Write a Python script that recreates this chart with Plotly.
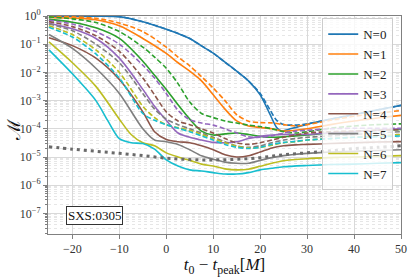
import plotly.graph_objects as go

# ---------------- data ----------------
t_a = [-25, -20, -15, -10, -5, 0, 2.5, 5, 7.5, 10, 12.5, 15, 17.5, 20, 22, 23.5, 24.5, 26, 28, 32, 40, 50]
n0_solid = [0.93, 0.98, 0.99, 0.95, 0.63, 0.34, 0.24, 0.16, 0.087, 0.048, 0.023, 0.011, 0.005, 0.0016,
            3.5e-4, 1.12e-4, 8.3e-5, 9.5e-5, 1.17e-4, 1.74e-4, 3.2e-4, 6.8e-4]
t_n0d = [-25, -20, -15, -10, -5, 0, 2.5, 5, 7.5, 10, 12.5, 15, 17.5, 20, 22, 23.5, 25, 27, 29, 32, 40, 50]
n0_dash = [0.95, 0.98, 0.99, 0.95, 0.63, 0.34, 0.24, 0.16, 0.087, 0.048, 0.023, 0.011, 0.005, 0.0018,
           5.0e-4, 2.0e-4, 1.41e-4, 1.35e-4, 1.41e-4, 1.74e-4, 3.2e-4, 6.8e-4]

t_b = [-25, -20, -15, -10, -5, 0, 2.5, 5, 7.5, 10, 12.5, 15, 17.5, 20, 22.5, 25, 27.5, 30, 35, 40, 45, 50]
n1_solid = [0.89, 0.85, 0.74, 0.45, 0.16, 0.047, 0.022, 0.011, 0.005, 0.0016, 5.0e-4, 1.9e-4, 1.26e-4,
            1.12e-4, 1.0e-4, 8.3e-5, 8.9e-5, 1.0e-4, 1.41e-4, 1.9e-4, 2.4e-4, 3.0e-4]
n1_dash = [0.98, 0.93, 0.83, 0.56, 0.28, 0.079, 0.035, 0.017, 0.0071, 0.0028, 1.0e-3, 3.2e-4, 1.86e-4,
           1.66e-4, 1.62e-4, 1.41e-4, 1.26e-4, 1.41e-4, 2.0e-4, 2.8e-4, 3.5e-4, 4.5e-4]

t_c = [-25, -20, -15, -10, -5, -2.5, 0, 2.5, 5, 7.5, 10, 12.5, 15, 17.5, 20, 22.5, 25, 27.5, 30, 35, 40, 45, 50]
n2_solid = [0.76, 0.60, 0.38, 0.16, 0.025, 0.0079, 0.0025, 7.1e-4, 2.2e-4, 8.3e-5, 6.0e-5, 6.6e-5, 7.1e-5,
            6.3e-5, 5.4e-5, 5.0e-5, 5.2e-5, 5.6e-5, 6.0e-5, 7.1e-5, 7.9e-5, 8.9e-5, 9.5e-5]
n2_dash = [0.93, 0.79, 0.59, 0.28, 0.079, 0.035, 0.014, 0.004, 8.9e-4, 3.5e-4, 2.5e-4, 1.9e-4, 1.6e-4,
           1.35e-4, 1.2e-4, 1.0e-4, 7.9e-5, 7.1e-5, 7.9e-5, 1.05e-4, 1.26e-4, 1.41e-4, 1.5e-4]
n3_solid = [0.55, 0.35, 0.16, 0.032, 0.0025, 6.3e-4, 2.0e-4, 7.1e-5, 5.0e-5, 4.0e-5, 3.3e-5, 3.2e-5, 3.5e-5,
            4.5e-5, 5.4e-5, 6.0e-5, 6.3e-5, 6.3e-5, 6.3e-5, 7.1e-5, 7.9e-5, 8.9e-5, 1.0e-4]
n3_dash = [0.71, 0.52, 0.28, 0.1, 0.018, 0.0063, 0.0018, 4.5e-4, 2.1e-4, 1.6e-4, 1.35e-4, 1.0e-4, 7.1e-5,
           5.2e-5, 5.0e-5, 5.6e-5, 7.1e-5, 8.3e-5, 8.9e-5, 1.0e-4, 1.05e-4, 1.05e-4, 1.05e-4]
n4_solid = [0.17, 0.089, 0.032, 0.0056, 4.0e-4, 7.9e-5, 4.2e-5, 3.5e-5, 3.2e-5, 2.5e-5, 1.8e-5, 1.2e-5, 1.0e-5,
            1.1e-5, 1.5e-5, 2.1e-5, 2.5e-5, 2.7e-5, 2.8e-5, 3.0e-5, 3.2e-5, 3.4e-5, 3.5e-5]
n4_dash = [0.63, 0.42, 0.2, 0.056, 0.0063, 0.0016, 4.0e-4, 1.9e-4, 1.4e-4, 1.0e-4, 7.1e-5, 4.5e-5, 3.2e-5,
           2.8e-5, 3.2e-5, 4.0e-5, 5.0e-5, 6.0e-5, 7.1e-5, 7.9e-5, 8.3e-5, 8.9e-5, 9.3e-5]
n5_solid = [0.22, 0.071, 0.014, 0.0018, 1.0e-4, 4.0e-5, 3.5e-5, 2.8e-5, 1.8e-5, 1.1e-5, 8.3e-6, 6.6e-6, 6.0e-6,
            6.0e-6, 7.6e-6, 9.5e-6, 1.12e-5, 1.26e-5, 1.35e-5, 1.5e-5, 1.6e-5, 1.7e-5, 1.8e-5]
n5_dash = [0.52, 0.3, 0.1, 0.022, 0.0018, 5.0e-4, 2.2e-4, 1.4e-4, 1.0e-4, 7.1e-5, 5.0e-5, 3.5e-5, 2.5e-5,
           2.2e-5, 2.5e-5, 3.2e-5, 4.0e-5, 4.5e-5, 5.0e-5, 5.6e-5, 6.3e-5, 7.1e-5, 7.9e-5]
n6_dash = [0.45, 0.22, 0.063, 0.01, 6.3e-4, 2.5e-4, 1.4e-4, 1.1e-4, 8.9e-5, 6.3e-5, 4.5e-5, 3.2e-5, 2.4e-5,
           2.1e-5, 2.2e-5, 2.6e-5, 3.2e-5, 3.5e-5, 4.0e-5, 4.5e-5, 5.0e-5, 5.6e-5, 6.3e-5]
n7_dash = [0.4, 0.18, 0.045, 0.0063, 3.5e-4, 2.0e-4, 1.4e-4, 1.05e-4, 7.9e-5, 5.6e-5, 4.0e-5, 2.8e-5, 2.2e-5,
           2.0e-5, 2.2e-5, 2.8e-5, 3.3e-5, 3.6e-5, 4.0e-5, 4.5e-5, 5.0e-5, 5.2e-5, 5.6e-5]

t_d = [-25, -20, -15, -10, -7.5, -5, -2.5, 0, 2.5, 5, 7.5, 10, 12.5, 15, 17.5, 20, 22.5, 25, 30, 35, 40, 45, 50]
n6_solid = [0.12, 0.022, 0.0032, 2.2e-4, 6.3e-5, 3.2e-5, 2.5e-5, 1.4e-5, 1.0e-5, 7.6e-6, 5.6e-6, 4.8e-6, 3.8e-6,
            3.5e-6, 3.7e-6, 4.7e-6, 6.0e-6, 7.4e-6, 8.7e-6, 9.5e-6, 1.0e-5, 1.05e-5, 1.12e-5]

t_e = [-25, -20, -15, -12.5, -10, -7.5, -5, -2.5, 0, 2.5, 5, 7.5, 10, 12.5, 15, 17.5, 20, 22.5, 25, 30, 35, 40, 45, 50]
n7_solid = [0.063, 0.0089, 0.001, 2.0e-4, 4.5e-5, 3.2e-5, 3.0e-5, 1.9e-5, 7.9e-6, 4.8e-6, 3.5e-6, 3.2e-6, 2.8e-6,
            2.5e-6, 2.5e-6, 2.8e-6, 3.5e-6, 4.0e-6, 4.5e-6, 5.0e-6, 5.4e-6, 5.6e-6, 6.0e-6, 6.3e-6]

t_f = [-25, -20, -15, -10, -5, 0, 5, 10, 15, 20, 25, 30, 35, 40, 45, 50]
floor_dotted = [2.3e-5, 1.9e-5, 1.6e-5, 1.35e-5, 1.12e-5, 9.1e-6, 8.1e-6, 7.9e-6, 8.3e-6, 9.5e-6, 1.2e-5,
                1.41e-5, 1.66e-5, 2.0e-5, 2.2e-5, 2.5e-5]

labels = ["N=0", "N=1", "N=2", "N=3", "N=4", "N=5", "N=6", "N=7"]
colors = ["#1f77b4", "#ff7f0e", "#2ca02c", "#9467bd", "#8c564b", "#7f7f7f", "#bcbd22", "#17becf"]
solid_series = [(t_a, n0_solid), (t_b, n1_solid), (t_c, n2_solid), (t_c, n3_solid),
                (t_c, n4_solid), (t_c, n5_solid), (t_d, n6_solid), (t_e, n7_solid)]
dash_series = [(t_n0d, n0_dash), (t_b, n1_dash), (t_c, n2_dash), (t_c, n3_dash),
               (t_c, n4_dash), (t_c, n5_dash), (t_c, n6_dash), (t_c, n7_dash)]

ytick_vals = [1, 1e-1, 1e-2, 1e-3, 1e-4, 1e-5, 1e-6, 1e-7]
ytick_text = ["10<sup>0</sup>", "10<sup>−1</sup>", "10<sup>−2</sup>", "10<sup>−3</sup>",
              "10<sup>−4</sup>", "10<sup>−5</sup>", "10<sup>−6</sup>", "10<sup>−7</sup>"]
xtick_vals = [-20, -10, 0, 10, 20, 30, 40, 50]
xtick_text = ["−20", "−10", "0", "10", "20", "30", "40", "50"]

FONT = "Liberation Serif"

fig = go.Figure()
for i, (tt, vv) in enumerate(solid_series):
    fig.add_trace(go.Scatter(x=tt, y=vv, mode="lines", name=labels[i], legendgroup=labels[i],
                             line=dict(color=colors[i], width=1.6, shape="spline", smoothing=0.8)))
for i, (tt, vv) in enumerate(dash_series):
    fig.add_trace(go.Scatter(x=tt, y=vv, mode="lines", name=labels[i] + " (dashed)", legendgroup=labels[i],
                             showlegend=False,
                             line=dict(color=colors[i], width=1.6, dash="5px,2.5px", shape="spline",
                                       smoothing=0.8)))
fig.add_trace(go.Scatter(x=t_f, y=floor_dotted, mode="lines", showlegend=False, name="floor",
                         line=dict(color="#6a6a6a", width=3, dash="3px,4px", shape="spline")))

grid_c = "#d9d9d9"
fig.update_layout(
    width=415, height=277,
    margin=dict(l=48, r=8, t=11, b=42),
    paper_bgcolor="white", plot_bgcolor="white",
    font=dict(family=FONT, size=12, color="#222"),
    legend=dict(x=0.978, y=0.99, xanchor="right", yanchor="top",
                bgcolor="rgba(255,255,255,0.8)", bordercolor="#cccccc", borderwidth=1,
                font=dict(family=FONT, size=13, color="#222"), tracegroupgap=0,
                traceorder="grouped"),
    xaxis=dict(range=[-25.2, 50], tickvals=xtick_vals, ticktext=xtick_text,
               showgrid=True, gridcolor=grid_c, gridwidth=1,
               showline=True, linecolor="#808080", linewidth=1, mirror=True,
               ticks="outside", ticklen=4, tickcolor="#808080", zeroline=False,
               tickfont=dict(family=FONT, size=12, color="#333"),
               title=dict(text="<i>t</i><sub>0</sub> − <i>t</i><sub>peak</sub>[<i>M</i>]",
                          font=dict(family=FONT, size=17, color="#111"), standoff=1)),
    yaxis=dict(type="log", range=[-7.73, 0.0], tickvals=ytick_vals, ticktext=ytick_text,
               showgrid=True, gridcolor=grid_c, gridwidth=1,
               showline=True, linecolor="#808080", linewidth=1, mirror=True,
               ticks="outside", ticklen=4, tickcolor="#808080", zeroline=False,
               tickfont=dict(family=FONT, size=12, color="#333"),
               minor=dict(dtick="D1", ticks="outside", ticklen=2, tickcolor="#808080",
                          showgrid=True, gridcolor="#e6e6e6", griddash="dot", gridwidth=1)),
    annotations=[
        dict(text="SXS:0305", xref="paper", yref="paper", x=0.131, y=0.085,
             xanchor="center", yanchor="middle",
             showarrow=False, font=dict(family=FONT, size=13, color="#111"),
             bgcolor="white", bordercolor="#333", borderwidth=1, borderpad=1),
        dict(text="ℳ", xref="paper", yref="paper", x=-0.095, y=0.48,
             xanchor="center", yanchor="middle", textangle=-90,
             showarrow=False, font=dict(family=FONT, size=18, color="#111")),
    ],
)

fig.write_html("out.html", config={"displayModeBar": False},
               post_script="document.body.style.margin='0px';document.body.style.padding='0px';")
